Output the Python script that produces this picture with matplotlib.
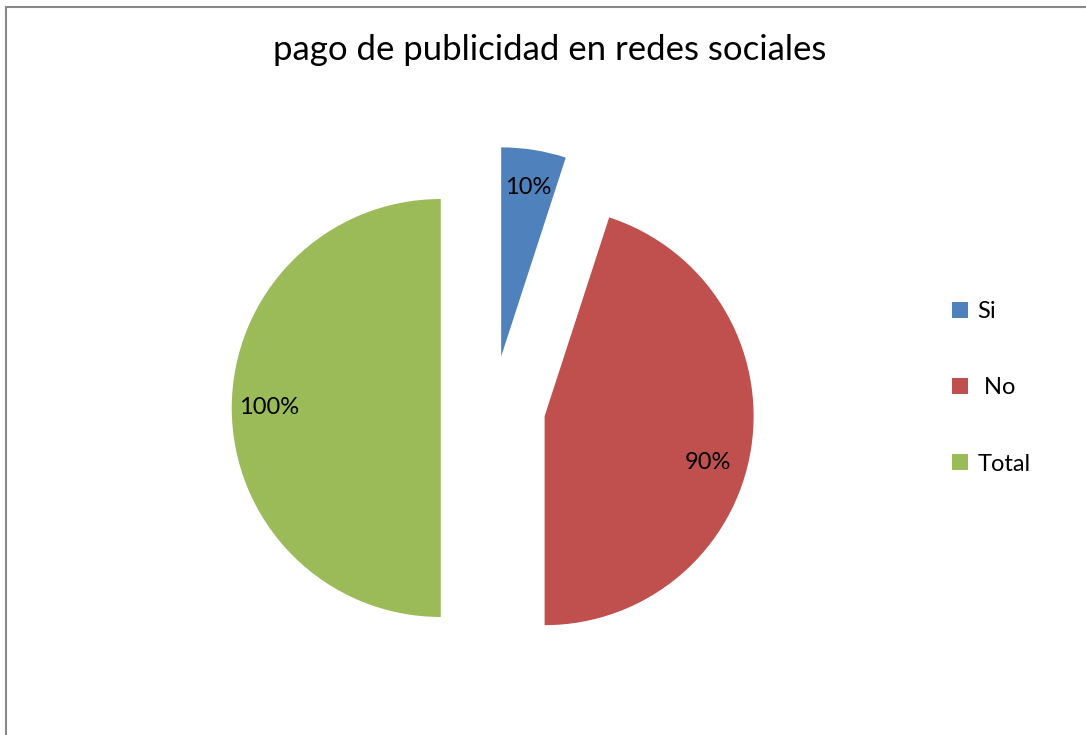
import matplotlib
matplotlib.use("Agg")
import matplotlib.pyplot as plt
from matplotlib.lines import Line2D
from matplotlib.patches import Rectangle

# data
categories = ["Si", " No", "Total"]
values = [10, 90, 100]
pct_labels = ["10%", "90%", "100%"]
colors = ["#4F81BD", "#C0504D", "#9BBB59"]

plt.rcParams["font.family"] = ["Lato", "DejaVu Sans"]

W, H = 1086, 735
fig = plt.figure(figsize=(W / 100, H / 100), dpi=100)
ax = fig.add_axes([0, 0, 1, 1])

# pie in pixel-like coordinates (y up); explode is in data units here
cx, cy, r = 493, H - 408, 209
gap = 0.25 * r
wedges, texts, autotexts = ax.pie(
    values, colors=colors, startangle=90, counterclock=False,
    explode=[gap, gap, gap], center=(cx, cy), radius=r,
    autopct="%d", pctdistance=0.82,
    wedgeprops=dict(linewidth=0),
    textprops=dict(fontsize=17, color="black"),
)
for t, s in zip(autotexts, pct_labels):
    t.set_text(s)
# excel puts the "90%" label a little lower
x, y = autotexts[1].get_position()
autotexts[1].set_position((x - 6, y - 20))

ax.set_xlim(0, W)
ax.set_ylim(0, H)
ax.set_aspect("equal")
ax.axis("off")

ax.text(550, H - 50, "pago de publicidad en redes sociales",
        fontsize=25, ha="center", va="center")

# outer frame (right and bottom edges lie outside the picture)
fig.patches.append(Rectangle((5.5 / W, -0.1), 1.2, (H - 6.5) / H + 0.1,
                             transform=fig.transFigure, fill=False,
                             edgecolor="#888888", linewidth=1.5))

handles = [Line2D([], [], marker="s", linestyle="none", markersize=11,
                  markerfacecolor=c, markeredgewidth=0) for c in colors]
fig.legend(handles, categories, loc="center left",
           bbox_to_anchor=(948 / W, (H - 388) / H), frameon=False,
           fontsize=17, labelspacing=2.34, handlelength=1.0,
           handletextpad=0.25, borderpad=0, borderaxespad=0)

fig.savefig("out.png", dpi=100)
